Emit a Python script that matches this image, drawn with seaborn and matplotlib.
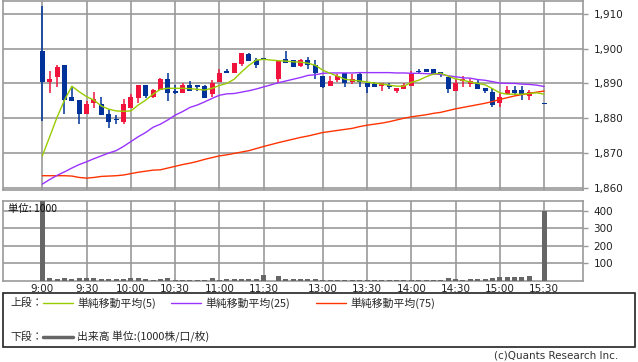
import numpy as np
import pandas as pd
import seaborn as sns
import matplotlib.pyplot as plt
from matplotlib.patches import Rectangle
from matplotlib.lines import Line2D
from matplotlib.ticker import FuncFormatter

sns.set_theme(style='white')
plt.rcParams['font.family'] = ['DejaVu Sans', 'Noto Sans CJK JP']
JP = ['Noto Sans CJK JP', 'DejaVu Sans']

# 5-minute bars, morning session then afternoon session
am = pd.date_range('2024-01-01 09:00', '2024-01-01 11:30', freq='5min')
pm = pd.date_range('2024-01-01 12:30', '2024-01-01 15:30', freq='5min')

opens = [1899.2, 1890.5, 1891.9, 1895.2, 1886.1, 1885.2, 1881.2, 1884.5, 1884.1, 1881.2,
         1879.8, 1879.0, 1883.0, 1885.9, 1889.5, 1886.2, 1888.1, 1891.4, 1887.8, 1887.3,
         1889.5, 1889.5, 1889.2, 1887.1, 1890.5, 1893.6, 1893.1, 1895.7, 1898.4, 1896.7,
         1897.1,
         1891.2, 1897.1, 1896.7, 1895.0, 1896.7, 1895.2, 1892.1, 1889.3, 1891.0, 1892.9,
         1890.5, 1892.6, 1890.2, 1889.7, 1889.3, 1889.5, 1887.8, 1888.4, 1889.2, 1893.6,
         1894.1, 1894.1, 1893.2, 1891.8, 1887.8, 1890.7, 1889.8, 1890.1, 1888.7, 1887.5,
         1884.4, 1886.9, 1888.1, 1888.1, 1886.4, np.nan, 1884.1]
highs = [1912.1, 1893.5, 1895.2, 1895.2, 1888.9, 1885.2, 1885.0, 1887.5, 1886.0, 1882.6,
         1881.0, 1885.5, 1887.0, 1889.5, 1889.5, 1888.5, 1891.5, 1892.9, 1889.5, 1890.0,
         1890.7, 1889.5, 1889.5, 1891.0, 1894.1, 1894.1, 1896.0, 1898.6, 1898.7, 1897.2,
         1897.2,
         1896.5, 1899.3, 1896.7, 1897.0, 1897.5, 1896.7, 1892.1, 1892.1, 1892.6, 1892.9,
         1892.6, 1893.0, 1890.2, 1890.5, 1890.0, 1890.2, 1888.6, 1890.0, 1893.5, 1894.1,
         1894.1, 1894.1, 1893.2, 1891.8, 1891.2, 1892.0, 1891.4, 1891.0, 1888.7, 1888.6,
         1887.2, 1889.3, 1889.3, 1889.3, 1888.1, np.nan, 1884.1]
lows = [1879.3, 1887.3, 1889.0, 1881.2, 1885.0, 1878.4, 1881.2, 1883.0, 1880.9, 1877.3,
        1878.4, 1878.4, 1883.0, 1884.4, 1885.9, 1885.9, 1888.1, 1885.0, 1887.0, 1887.3,
        1887.8, 1887.8, 1885.9, 1886.0, 1890.5, 1893.0, 1893.1, 1895.0, 1896.5, 1894.4,
        1896.9,
        1890.0, 1895.9, 1894.6, 1894.8, 1894.0, 1891.4, 1888.6, 1889.3, 1890.5, 1889.0,
        1889.8, 1889.0, 1887.3, 1889.0, 1887.8, 1888.4, 1887.3, 1888.4, 1889.2, 1892.7,
        1893.2, 1892.4, 1891.8, 1887.2, 1887.8, 1889.0, 1889.0, 1888.4, 1887.2, 1883.2,
        1883.2, 1886.9, 1886.6, 1885.2, 1885.2, np.nan, 1884.0]
closes = [1890.5, 1891.2, 1894.7, 1885.2, 1885.0, 1881.2, 1884.1, 1885.6, 1880.9, 1879.0,
          1879.6, 1884.1, 1886.1, 1889.5, 1886.4, 1888.1, 1891.4, 1887.3, 1887.3, 1889.5,
          1887.8, 1889.0, 1885.9, 1890.2, 1893.1, 1893.0, 1896.0, 1898.6, 1896.5, 1895.4,
          1896.9,
          1896.5, 1895.9, 1894.6, 1896.7, 1895.4, 1893.0, 1889.0, 1890.7, 1892.1, 1890.0,
          1891.4, 1890.5, 1889.0, 1889.0, 1890.0, 1889.0, 1888.6, 1889.5, 1892.9, 1893.4,
          1893.2, 1892.7, 1892.4, 1888.4, 1890.1, 1891.2, 1890.7, 1888.4, 1887.9, 1883.8,
          1886.1, 1888.1, 1887.2, 1886.9, 1887.5, np.nan, 1884.0]
volume = [1000, 15, 9, 15, 9, 15, 15, 15, 9, 9, 9, 9, 15, 15, 9, 3, 9, 15, 2, 2,
          2, 2, 2, 14, 3, 9, 9, 9, 9, 9, 32,
          27, 9, 9, 9, 9, 9, 6, 6, 2, 6, 2, 2, 2, 2, 6, 2, 2, 2, 6,
          2, 2, 2, 2, 14, 9, 3, 9, 9, 9, 14, 20, 20, 20, 20, 27, 0, 400]
ma5 = [1869.2, 1874.7, 1880.3, 1885.2, 1889.2, 1887.6, 1886.2, 1885.2, 1883.5, 1882.6,
       1882.1, 1882.0, 1882.1, 1883.8, 1885.2, 1886.9, 1888.3, 1888.6, 1888.6, 1888.6,
       1888.5, 1888.3, 1888.1, 1888.6, 1889.4, 1890.0, 1891.2, 1893.3, 1895.2, 1896.7,
       1896.9,
       1896.5, 1896.4, 1896.2, 1896.1, 1895.8, 1895.2, 1893.8, 1892.9, 1892.1, 1891.2,
       1890.9, 1890.7, 1890.4, 1890.1, 1889.8, 1889.5, 1889.2, 1889.2, 1890.3, 1890.9,
       1891.9, 1892.7, 1892.9, 1892.1, 1891.3, 1890.9, 1890.4, 1890.0, 1889.6, 1888.5,
       1887.3, 1886.9, 1886.9, 1886.9, 1887.1, 1887.3, 1886.9]
ma25 = [1861.1, 1862.4, 1863.6, 1864.6, 1865.7, 1866.7, 1867.5, 1868.4, 1869.2, 1870.0,
        1870.7, 1871.9, 1873.3, 1874.7, 1875.9, 1877.4, 1878.3, 1879.5, 1880.9, 1881.9,
        1883.1, 1883.8, 1884.7, 1885.7, 1886.6, 1887.0, 1887.1, 1887.5, 1887.9, 1888.4,
        1889.0,
        1890.2, 1890.7, 1891.2, 1891.7, 1892.3, 1892.5, 1892.9, 1893.0, 1893.0, 1893.0,
        1893.0, 1893.1, 1893.1, 1893.1, 1893.1, 1893.1, 1893.0, 1893.0, 1892.9, 1892.9,
        1892.8, 1892.7, 1892.6, 1892.2, 1891.9, 1891.6, 1891.5, 1891.1, 1890.9, 1890.5,
        1890.1, 1890.0, 1890.0, 1889.8, 1889.7, 1889.5, 1889.1]
ma75 = [1863.5, 1863.5, 1863.5, 1863.5, 1863.4, 1863.0, 1862.8, 1863.0, 1863.3, 1863.4,
        1863.5, 1863.7, 1864.1, 1864.5, 1864.8, 1865.1, 1865.2, 1865.7, 1866.2, 1866.7,
        1867.1, 1867.6, 1868.2, 1868.7, 1869.2, 1869.5, 1869.9, 1870.3, 1870.7, 1871.3,
        1871.9,
        1873.0, 1873.5, 1874.0, 1874.5, 1874.9, 1875.4, 1875.9, 1876.2, 1876.5, 1876.8,
        1877.1, 1877.6, 1878.0, 1878.3, 1878.6, 1879.0, 1879.5, 1880.0, 1880.4, 1880.7,
        1881.0, 1881.4, 1881.7, 1882.2, 1882.7, 1883.1, 1883.5, 1883.9, 1884.3, 1884.8,
        1885.4, 1885.9, 1886.4, 1886.8, 1887.1, 1887.5, 1887.8]

grid_labels = ['9:00', '9:30', '10:00', '10:30', '11:00', '11:30',
               '13:00', '13:30', '14:00', '14:30', '15:00', '15:30']
price_ticks = [1860, 1870, 1880, 1890, 1900, 1910]
vol_ticks = [100, 200, 300, 400]

# slot positions: one empty slot for the lunch break
times = list(am) + list(pm)
slots = [i for i in range(len(am))] + [len(am) + 1 + i for i in range(len(pm))]
df = pd.DataFrame({'time': [f'{t.hour}:{t.minute:02d}' for t in times], 'slot': slots,
                   'open': opens, 'high': highs, 'low': lows, 'close': closes,
                   'volume': volume, 'ma5': ma5, 'ma25': ma25, 'ma75': ma75})
pos = dict(zip(df['time'], df['slot']))

RED, BLUE, GRID = '#F0143C', '#003399', '#999999'
C5, C25, C75, CVOL = '#99CC00', '#9933FF', '#FF3300', '#666666'

W, H = 638, 362
fig = plt.figure(figsize=(W / 100, H / 100), dpi=100)
fig.patch.set_facecolor('white')

def box(l, t, r, b):
    return [l / W, 1 - b / H, (r - l) / W, (b - t) / H]

ax = fig.add_axes(box(3, 0.5, 583, 190))
axv = fig.add_axes(box(3, 200.5, 583, 280.8))

# candles
c = df.dropna(subset=['open'])
col = np.where(c['close'] >= c['open'], RED, BLUE)
ax.vlines(c['slot'], c['low'], c['high'], color=col, lw=1.1, zorder=3)
body = np.maximum((c['close'] - c['open']).abs(), 0.3)
ax.bar(c['slot'], body, bottom=np.minimum(c['open'], c['close']), width=0.68,
       color=col, lw=0, zorder=3)

# moving averages
sns.lineplot(data=df, x='slot', y='ma75', color=C75, lw=1.0, ax=ax, zorder=4)
sns.lineplot(data=df, x='slot', y='ma25', color=C25, lw=1.0, ax=ax, zorder=4)
sns.lineplot(data=df, x='slot', y='ma5', color=C5, lw=1.0, ax=ax, zorder=4)

# volume
sns.barplot(data=df, x='slot', y='volume', native_scale=True, width=0.68,
            color=CVOL, saturation=1, errorbar=None, lw=0, ax=axv, zorder=3)

xlim = (-5.33, 73.27)
for a in (ax, axv):
    a.set_xlim(*xlim)
    a.set_xticks([pos[t] for t in grid_labels])
    a.grid(True, color=GRID, lw=1.2)
    a.set_axisbelow(True)
    a.set_xlabel('')
    a.set_ylabel('')
    for s in a.spines.values():
        s.set_color(GRID)
        s.set_linewidth(1.2)
    a.yaxis.tick_right()
    a.tick_params(axis='y', which='both', right=True, length=3.5, width=1, color=GRID,
                  pad=4, labelsize=7.5, labelcolor='#222222')

ax.set_ylim(1859.4, 1913.8)
ax.set_yticks(price_ticks)
ax.yaxis.set_major_formatter(FuncFormatter(lambda v, p: f'{v:,.0f}'))
ax.tick_params(axis='x', length=0, labelbottom=False)

axv.set_ylim(0, 459)
axv.set_yticks(vol_ticks)
axv.set_xticklabels(grid_labels)
axv.tick_params(axis='x', length=0, pad=2, labelsize=7.5, labelcolor='#222222')

fig.text(8 / W, 1 - 209 / H, '単位: 1000', family=JP, fontsize=7.5, va='center',
         color='#111111')

# legend box
fig.patches.append(Rectangle((3 / W, 1 - 347 / H), 632 / W, 54 / H, transform=fig.transFigure,
                             fill=False, edgecolor='#222222', lw=1.2))
y1, y2 = 1 - 303 / H, 1 - 337 / H
fig.text(10 / W, y1, '上段：', family=JP, fontsize=7.8, va='center')
fig.text(10 / W, y2, '下段：', family=JP, fontsize=7.8, va='center')
for x0, colr, lab in [(43, C5, '単純移動平均(5)'), (171, C25, '単純移動平均(25)'),
                      (316, C75, '単純移動平均(75)')]:
    fig.lines.append(Line2D([x0 / W, (x0 + 30) / W], [y1, y1], transform=fig.transFigure,
                            color=colr, lw=1.0))
    fig.text((x0 + 34) / W, y1, lab, family=JP, fontsize=7.8, va='center')
fig.lines.append(Line2D([43 / W, 73 / W], [y2, y2], transform=fig.transFigure,
                        color=CVOL, lw=2.5))
fig.text(77 / W, y2, '出来高 単位:(1000株/口/枚)', family=JP, fontsize=7.8, va='center')

fig.text(618 / W, 1 - 355 / H, '(c)Quants Research Inc.', fontsize=7.5, ha='right',
         va='center', color='#333333')

fig.savefig('out.png', dpi=100, facecolor='white')
